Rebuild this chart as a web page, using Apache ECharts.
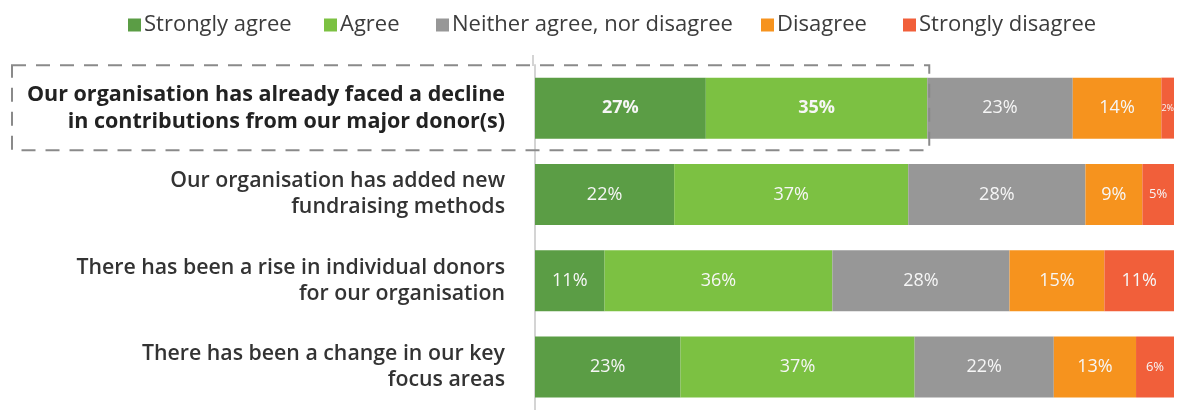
<!DOCTYPE html>
<html>
<head>
<meta charset="utf-8">
<script src="https://cdn.jsdelivr.net/npm/echarts@6/dist/echarts.min.js"></script>
<style>
  html, body { margin: 0; padding: 0; background: #fff; }
  #chart { width: 1181px; height: 410px; }
</style>
</head>
<body>
<div id="chart"></div>
<script>
// Survey statements, top to bottom
const statements = [
  'Our organisation has already faced a decline\nin contributions from our major donor(s)',
  'Our organisation has added new\nfundraising methods',
  'There has been a rise in individual donors\nfor our organisation',
  'There has been a change in our key\nfocus areas'
];

// Response shares (%) per statement, same order as above
const stronglyAgree    = [27, 22, 11, 23];
const agree            = [35, 37, 36, 37];
const neither          = [23, 28, 28, 22];
const disagree         = [14, 9, 15, 13];
const stronglyDisagree = [2, 5, 11, 6];

const seriesNames = ['Strongly agree', 'Agree', 'Neither agree, nor disagree', 'Disagree', 'Strongly disagree'];
const seriesValues = [stronglyAgree, agree, neither, disagree, stronglyDisagree];
const colors = ['#5b9d45', '#7cc142', '#979797', '#f6931e', '#f15f3a'];

const FONT = '"Open Sans", Roboto, sans-serif';

// Left edge of each legend entry along the top row
const legendLefts = [123, 319, 431, 756, 898];

// Size of the value label inside each segment
function labelSize(v) {
  if (v < 3) return 9;
  if (v <= 6) return 13;
  return 18;
}

const series = seriesNames.map((name, si) => ({
  name: name,
  type: 'bar',
  stack: 'total',
  barWidth: 61,
  itemStyle: { color: colors[si] },
  data: seriesValues[si].map((v, ci) => ({
    value: v,
    label: {
      show: true,
      position: 'inside',
      formatter: '{c}%',
      color: '#f6f6f6',
      fontFamily: FONT,
      fontSize: labelSize(v),
      fontWeight: (ci === 0 && si < 2) ? 'bold' : 'normal'
    }
  }))
}));

const legends = seriesNames.map((name, i) => ({
  left: legendLefts[i],
  top: 9,
  itemWidth: 13,
  itemHeight: 13,
  icon: 'rect',
  selectedMode: false,
  textStyle: { fontFamily: FONT, fontSize: 22, color: '#3c3c3c', padding: [0, 0, 0, -2] },
  data: [name]
}));

const chart = echarts.init(document.getElementById('chart'), null, { renderer: 'canvas' });

chart.setOption({
  animation: false,
  color: colors,
  legend: legends,
  grid: { left: 535, right: 7, top: 65, height: 348, containLabel: false },
  xAxis: {
    type: 'value',
    min: 0,
    max: 101,
    show: false
  },
  yAxis: {
    type: 'category',
    inverse: true,
    data: statements,
    offset: 2,
    axisTick: { show: false },
    axisLine: { show: true, lineStyle: { color: '#d4d4d4', width: 2 } },
    axisLabel: {
      margin: 28,
      align: 'right',
      formatter: function (val, idx) {
        return idx === 0 ? '{first|' + val.replace('\n', '}\n{first|') + '}'
                         : '{rest|' + val.replace('\n', '}\n{rest|') + '}';
      },
      rich: {
        first: { fontFamily: FONT, fontSize: 21.5, fontWeight: 'bold', color: '#222222', lineHeight: 27, align: 'right' },
        rest:  { fontFamily: FONT, fontSize: 21.3, fontWeight: 600, color: '#333333', lineHeight: 26, align: 'right' }
      }
    }
  },
  series: series
});

// Dashed frame around the first statement and its agreeing share
function drawFrame() {
  const right = chart.convertToPixel({ gridIndex: 0 }, [stronglyAgree[0] + agree[0], 0])[0] + 2;
  const yCenter = chart.convertToPixel({ gridIndex: 0 }, [0, 0])[1];
  chart.setOption({
    graphic: [
      {
        type: 'rect',
        z: 100,
        shape: { x: 12, y: yCenter - 43, width: right - 12, height: 85 },
        style: { fill: 'none', stroke: '#8a8a8a', lineWidth: 2, lineDash: [14, 10] }
      },
      {
        type: 'line',
        z: 100,
        shape: { x1: 533, y1: 55, x2: 533, y2: 66 },
        style: { stroke: '#d4d4d4', lineWidth: 2 }
      }
    ]
  });
}
drawFrame();
</script>
</body>
</html>
